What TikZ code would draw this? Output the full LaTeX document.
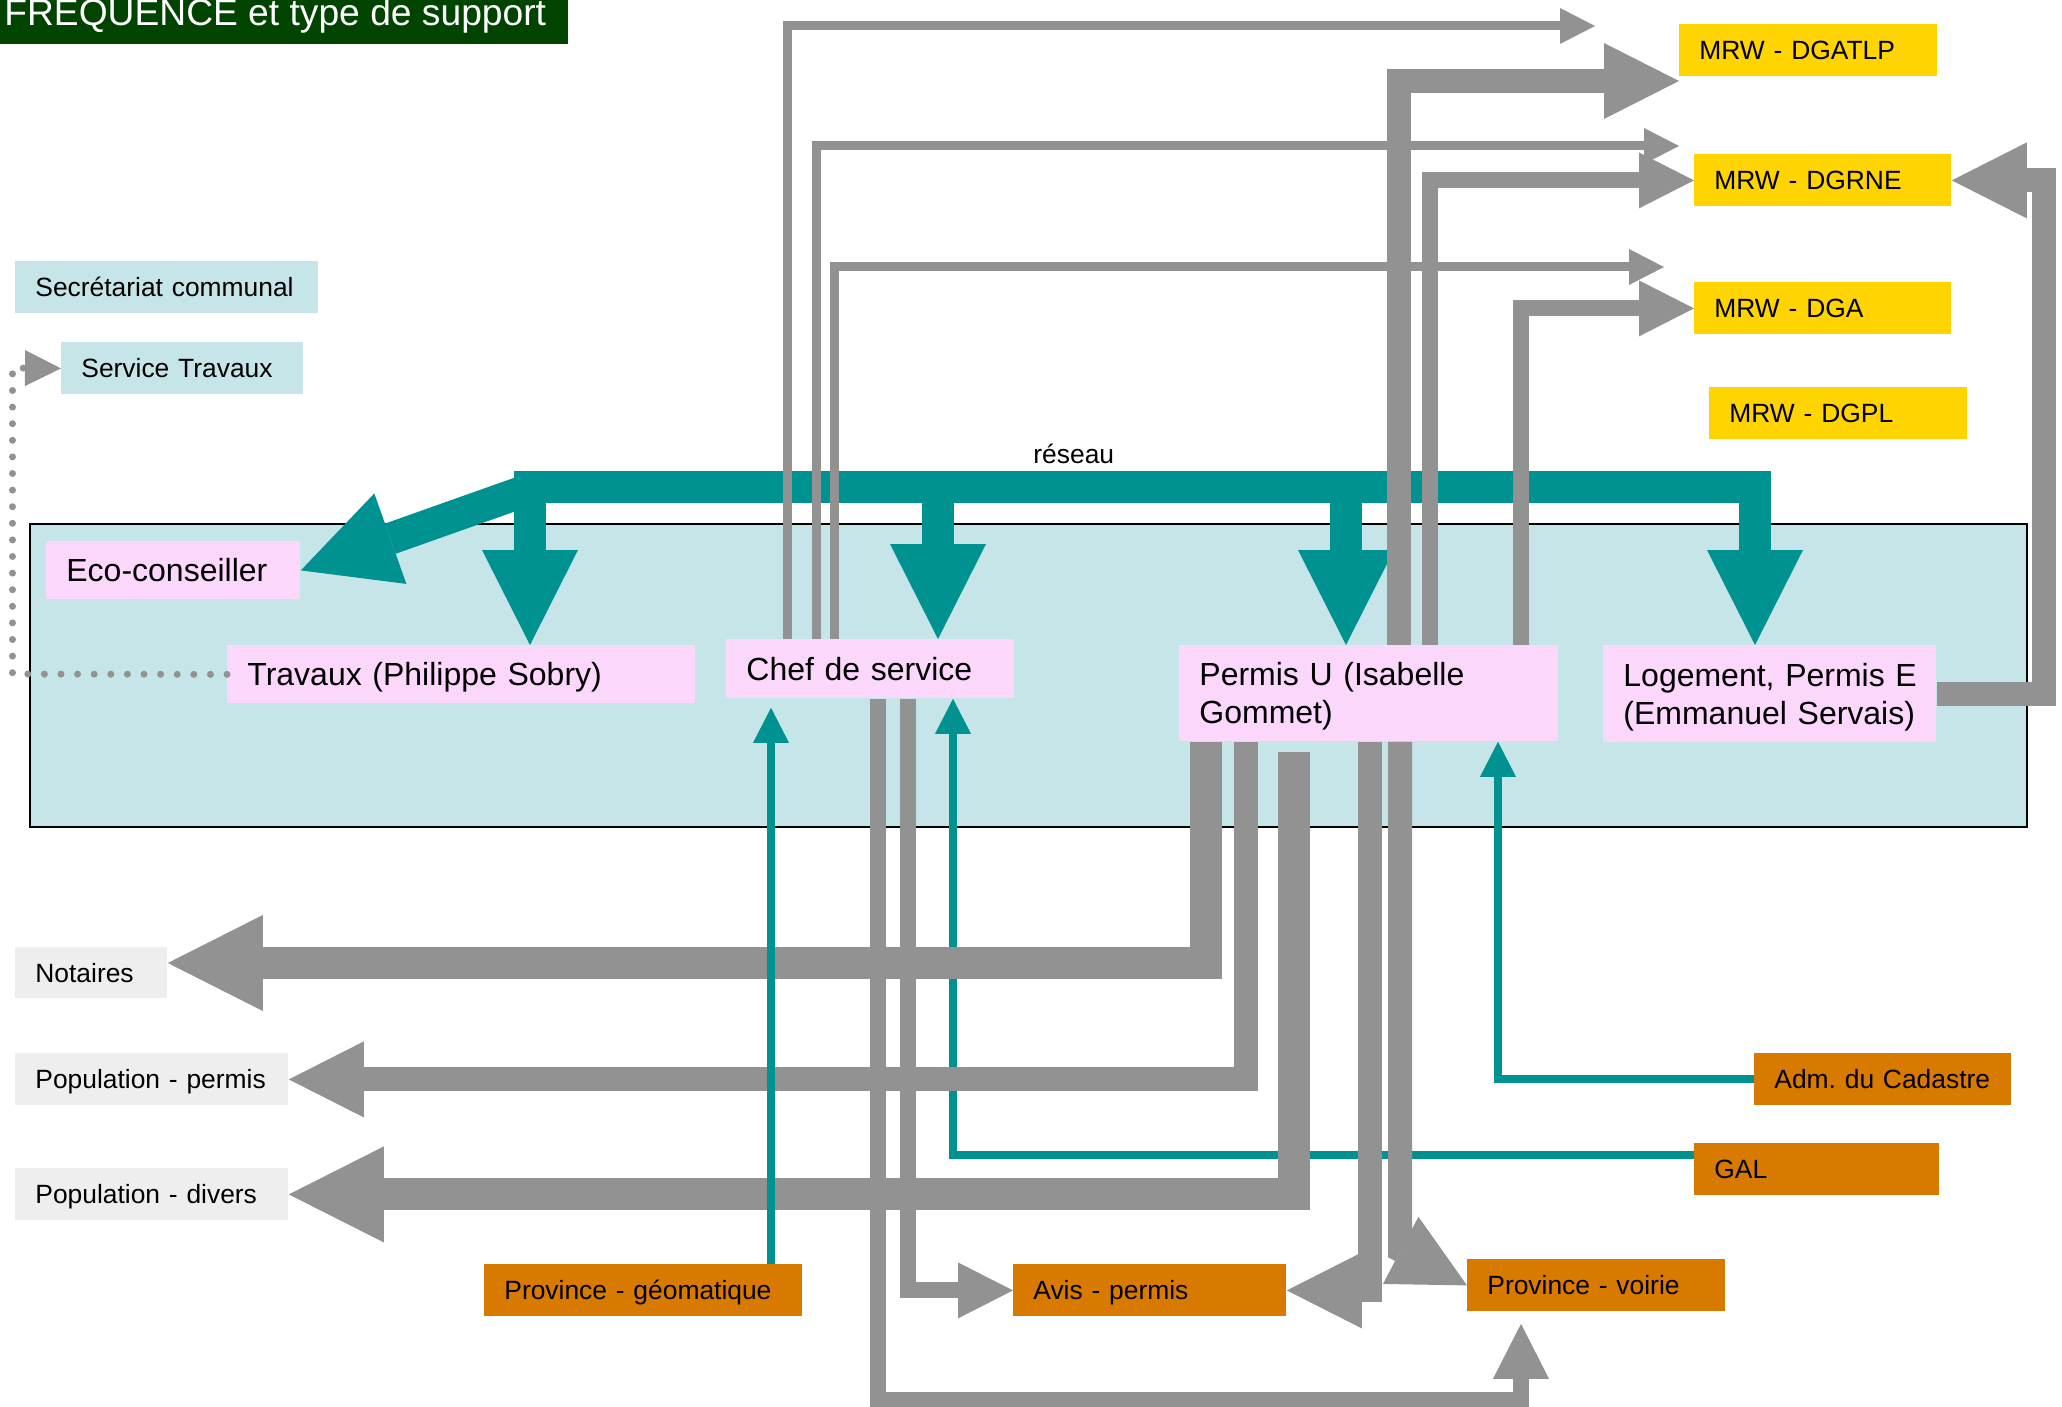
\documentclass[tikz,border=0pt]{standalone}
\usepackage{fontspec}
\setmainfont{Liberation Sans}
\usepackage{tikz}
\usetikzlibrary{calc}
\usetikzlibrary{arrows.meta}

\definecolor{vertfonce}{RGB}{0,68,0}
\definecolor{sarcelle}{RGB}{0,146,144}
\definecolor{grisfleche}{RGB}{146,146,146}
\definecolor{bleuclair}{RGB}{198,229,232}
\definecolor{rosepale}{RGB}{252,215,252}
\definecolor{jaunemrw}{RGB}{255,212,0}
\definecolor{orangeprov}{RGB}{216,122,0}
\definecolor{grisclair}{RGB}{238,238,238}

\newcommand{\ptexte}{\fontsize{13.2}{15.8}\selectfont}
\newcommand{\gtexte}{\fontsize{16}{19}\selectfont}
\newcommand{\boite}[7]{\node[boite, #2, minimum width=#5*0.5pt, minimum height=#6*0.5pt, text width=#5*0.5pt-20pt] (#1) at (#3,#4) {#7};}

\tikzset{
  boite/.style={rectangle, draw=none, inner xsep=10pt, inner ysep=0pt, anchor=north west, align=left},
  interne/.style={fill=bleuclair, font=\ptexte, text height=9.45pt, text depth=0pt},
  agent/.style={fill=rosepale, font=\gtexte, text height=11.46pt, text depth=0pt},
  deuxlignes/.style={text depth=19pt},
  mrw/.style={fill=jaunemrw, font=\ptexte, text height=9.45pt, text depth=0pt},
  externe/.style={fill=orangeprov, font=\ptexte, text height=9.45pt, text depth=0pt},
  public/.style={fill=grisclair, font=\ptexte, text height=9.45pt, text depth=0pt},
  titre/.style={anchor=base west, inner sep=0pt, text=white, font=\fontsize{18.6}{22}\selectfont},
  zone/.style={fill=bleuclair, draw=black, line width=0.7pt},
  reseau/.style={draw=sarcelle, line width=16pt, -{Triangle[length=47.5pt, width=48pt, line width=0pt]}},
  fin/.style={draw=grisfleche, line width=4.5pt, -{Triangle[length=17.5pt, width=18pt, line width=0pt]}},
  moyen/.style={draw=grisfleche, line width=8pt, -{Triangle[length=27.5pt, width=28pt, line width=0pt]}},
  gros/.style={draw=grisfleche, line width=12pt, -{Triangle[length=37.5pt, width=38pt, line width=0pt]}},
  tresgros/.style={draw=grisfleche, line width=16pt, -{Triangle[length=47.5pt, width=48pt, line width=0pt]}},
  liaison/.style={draw=sarcelle, line width=4pt, -{Triangle[length=17.5pt, width=18pt, line width=0pt]}},
  pointille/.style={draw=grisfleche, line width=3.5pt, line cap=round, dash pattern=on 0pt off 8.3pt, -{Triangle[length=18pt, width=18pt, line width=0pt]}}
}

\begin{document}
\begin{tikzpicture}[x=0.5pt, y=-0.5pt]
    \useasboundingbox (0,0) rectangle (2062,1407);

    % titre
    \fill[vertfonce] (0,0) rectangle (568,44);
    \node[titre] (titre) at (4,26) {FREQUENCE et type de support};

    % service communal
    \draw[zone] (30,524) rectangle (2027,827);
    \boite{sec}{interne}{15}{261}{303}{52}{Secrétariat communal}
    \boite{servtrav}{interne}{61}{342}{242}{52}{Service Travaux}
    \boite{eco}{agent}{46}{541}{254}{58}{Eco-conseiller}
    \boite{travaux}{agent}{227}{645}{468}{58}{Travaux (Philippe Sobry)}
    \boite{chef}{agent}{726}{639}{288}{59}{Chef de service}
    \boite{permisU}{agent, deuxlignes}{1179}{645}{379}{96}{\mbox{Permis U (Isabelle}\\\mbox{Gommet)}}
    \boite{logement}{agent, deuxlignes}{1603}{645}{333}{97}{\mbox{Logement, Permis E}\\\mbox{(Emmanuel Servais)}}

    % MRW
    \boite{dgatlp}{mrw}{1679}{24}{258}{52}{MRW - DGATLP}
    \boite{dgrne}{mrw}{1694}{154}{257}{52}{MRW - DGRNE}
    \boite{dga}{mrw}{1694}{282}{257}{52}{MRW - DGA}
    \boite{dgpl}{mrw}{1709}{387}{258}{52}{MRW - DGPL}

    % public
    \boite{notaires}{public}{15}{947}{152}{51}{Notaires}
    \boite{poppermis}{public}{15}{1053}{273}{52}{Population - permis}
    \boite{popdivers}{public}{15}{1168}{273}{52}{Population - divers}

    % partenaires
    \boite{provgeo}{externe}{484}{1264}{318}{52}{\mbox{Province - géomatique}}
    \boite{avis}{externe}{1013}{1264}{273}{52}{Avis - permis}
    \boite{provvoirie}{externe}{1467}{1259}{258}{52}{Province - voirie}
    \boite{cadastre}{externe}{1754}{1053}{257}{52}{\mbox{Adm.\ du Cadastre}}
    \boite{gal}{externe}{1694}{1143}{245}{52}{GAL}

    % reseau
    \node[anchor=base west, inner sep=0pt, font=\ptexte] (lblreseau) at (1033,463) {réseau};
    \draw[reseau] (514,487) -- (1755,487) -- (logement.north -| 1755,0);
    \draw[reseau] (530,487) -- (travaux.north -| 530,0);
    \draw[reseau] (938,487) -- (chef.north -| 938,0);
    \draw[reseau] (1346,487) -- (permisU.north -| 1346,0);
    \draw[reseau] (522,492) -- (eco.east);

    % GAL (sous les fleches grises)
    \draw[liaison] (gal.west |- 0,1155) -| (chef.south -| 953,0);

    % vers le haut
    \coordinate (sortie1) at (1595,26);
    \coordinate (sortie2) at (1679,146);
    \coordinate (sortie3) at (1664,267);
    \coordinate (sortie4) at (1679,81);
    \draw[fin] (chef.north -| 787,0) |- (sortie1);
    \draw[fin] (chef.north -| 816,0) |- (sortie2);
    \draw[fin] (chef.north -| 834,0) |- (sortie3);
    \draw[gros] (permisU.north -| 1399,0) |- (sortie4);
    \draw[moyen] (permisU.north -| 1430,0) |- (dgrne.west);
    \draw[moyen] (permisU.north -| 1521,0) |- (dga.west);
    \draw[gros] (logement.east) -- (logement.east -| 2044,0) |- (dgrne.east);

    % vers le bas
    \coordinate (voirieBas) at ($(provvoirie.south -| 1521,0)+(0,12)$);
    \draw[tresgros] (permisU.south -| 1206,0) |- (notaires.east |- 0,963);
    \draw[gros] (permisU.south -| 1246,0) |- (poppermis.east);
    \draw[tresgros] ($(permisU.south -| 1294,0)+(0,10)$) |- (popdivers.east);
    \draw[gros] (permisU.south -| 1370,0) |- (avis.east);
    \draw[gros] (permisU.south -| 1400,0) -- (1400,1250) -- (provvoirie.west);
    \draw[moyen] (chef.south -| 878,0) |- (1521,1400) -- (voirieBas);
    \draw[moyen] (chef.south -| 908,0) |- (avis.west);

    % liaisons
    \draw[liaison] (provgeo.north -| 771,0) -- ($(chef.south -| 771,0)+(0,9)$);
    \draw[liaison] (cadastre.west) -| (permisU.south -| 1498,0);

    % service travaux
    \draw[pointille] (travaux.west) -- (12.5,674) -- (12.5,368) -- (servtrav.west);
\end{tikzpicture}
\end{document}
